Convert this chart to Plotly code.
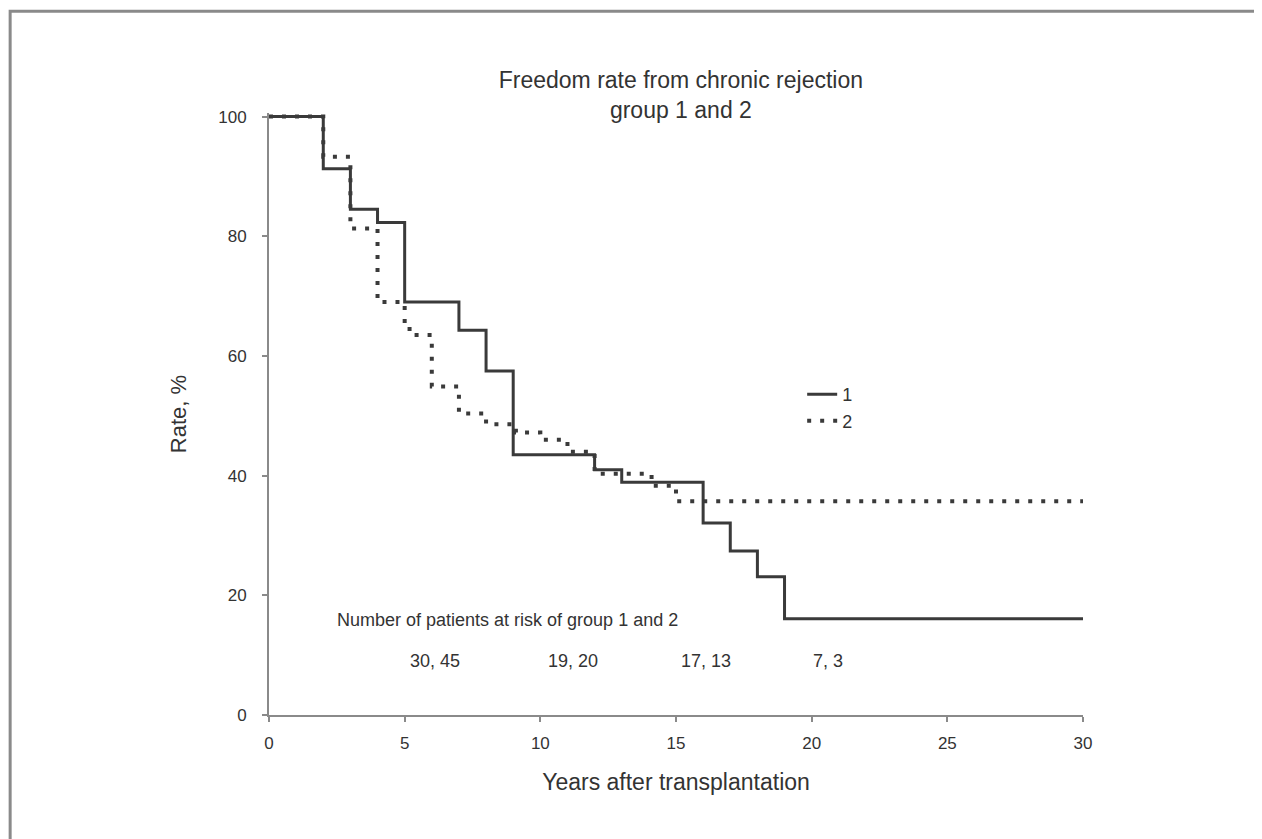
import plotly.graph_objects as go

# Group 1 (solid) Kaplan-Meier steps
g1_years = [0, 2, 3, 4, 5, 7, 8, 9, 12, 13, 16, 17, 18, 19, 30]
g1_rate = [100, 91.3, 84.5, 82.3, 69.0, 64.3, 57.5, 43.5, 41.0, 38.9, 32.1, 27.4, 23.1, 16.1, 16.1]

# Group 2 (dotted) Kaplan-Meier steps
g2_years = [0, 2, 3, 4, 5, 5.3, 6, 7, 8, 9.1, 10, 11, 12, 14.1, 15, 30]
g2_rate = [100, 93.3, 81.3, 69.0, 64.5, 63.5, 54.9, 50.4, 48.6, 47.2, 46.0, 44.0, 40.3, 38.3, 35.7, 35.7]

series_names = ["1", "2"]
risk_title = "Number of patients at risk of group 1 and 2"
risk_counts = ["30, 45", "19, 20", "17, 13", "7, 3"]
x_ticks = [0, 5, 10, 15, 20, 25, 30]
y_ticks = [0, 20, 40, 60, 80, 100]

FONT = "Liberation Sans, Arial, sans-serif"
TXT = "#333333"
LINE = "#3a3a3a"
AX = "#8a8a8a"

fig = go.Figure()
fig.add_trace(go.Scatter(x=g1_years, y=g1_rate, mode="lines", name=series_names[0],
                         line=dict(shape="hv", color=LINE, width=3)))
fig.add_trace(go.Scatter(x=g2_years, y=g2_rate, mode="lines", name=series_names[1],
                         line=dict(shape="hv", color=LINE, width=4, dash="4px,9px")))

# at-risk annotations
fig.add_annotation(x=2.45, y=15.9, xref="x", yref="y", text=risk_title, showarrow=False,
                   xanchor="left", yanchor="middle", font=dict(size=18, color=TXT, family=FONT))
risk_pos = [6.1, 11.2, 16.1, 20.6]
for xp, t in zip(risk_pos, risk_counts):
    fig.add_annotation(x=xp, y=9.0, xref="x", yref="y", text=t, showarrow=False,
                       xanchor="center", yanchor="middle", font=dict(size=18, color=TXT, family=FONT))

# outer frame (left and top visible)
fig.add_shape(type="rect", xref="paper", yref="paper", x0=-0.318, x1=1.25, y0=-0.25, y1=1.169,
              line=dict(color="#8a8a8a", width=3), fillcolor="rgba(0,0,0,0)", layer="below")

fig.update_layout(
    width=1254, height=831,
    margin=dict(l=261, r=179, t=105, b=124),
    paper_bgcolor="white", plot_bgcolor="white",
    font=dict(family=FONT, color=TXT),
    title=dict(text="Freedom rate from chronic rejection<br>group 1 and 2",
               x=0.506, xref="paper", xanchor="center",
               y=1 - 80 / 831, yref="container", yanchor="top",
               font=dict(size=23, color=TXT, family=FONT)),
    showlegend=True,
    legend=dict(x=0.655, y=0.563, xanchor="left", yanchor="top", bgcolor="rgba(0,0,0,0)",
                font=dict(size=18, color=TXT, family=FONT), itemwidth=30),
    xaxis=dict(range=[0, 30], tickvals=x_ticks, showgrid=False, zeroline=False,
               showline=True, linecolor=AX, linewidth=2, ticks="outside", ticklen=5,
               tickcolor=AX, tickwidth=2, ticklabelstandoff=7,
               tickfont=dict(size=17, color=TXT, family=FONT),
               title=dict(text="Years after transplantation", standoff=21,
                          font=dict(size=23, color=TXT, family=FONT))),
    yaxis=dict(range=[0, 100.6], tickvals=y_ticks, showgrid=False, zeroline=False,
               showline=True, linecolor=AX, linewidth=2, ticks="outside", ticklen=5,
               tickcolor=AX, tickwidth=2, ticklabelstandoff=12,
               tickfont=dict(size=17, color=TXT, family=FONT),
               title=dict(text="Rate, %", standoff=26,
                          font=dict(size=22, color=TXT, family=FONT))),
)

fig.write_html("out.html")
